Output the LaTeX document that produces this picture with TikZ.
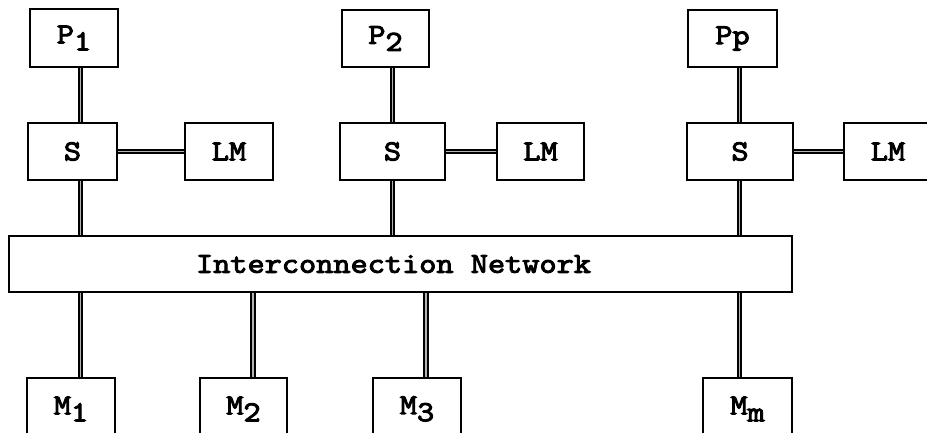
\documentclass[tikz,border=0pt]{standalone}
\usepackage{fontspec}
\newfontfamily\boxfont[FakeBold=3.5, FakeStretch=1.15]{Latin Modern Mono}
\newcommand\lowsub[1]{\raisebox{-0.24em}{#1}}
\tikzset{
  labeltext/.style={font=\boxfont\fontsize{29}{31}\selectfont},
  unit/.style={draw, line width=2.3pt, rectangle, inner sep=0pt, labeltext},
  conn/.style={line width=1.7pt, double=black!30, double distance=1.9pt},
}
\begin{document}
\begin{tikzpicture}[x=1pt,y=-1pt]
\useasboundingbox (0,0) rectangle (927,433);
\clip (0,0) rectangle (927,433);
\fill[white] (0,0) rectangle (927,433);

% bus positions of the processor and memory columns
\coordinate (c1) at (80.5,0);
\coordinate (c2) at (392.5,0);
\coordinate (c3) at (739.5,0);
\coordinate (c4) at (253,0);
\coordinate (c5) at (426,0);

% processors
\node[unit, minimum width=88pt, minimum height=58pt] (P1) at (74,38) {P\lowsub{1}};
\node[unit, minimum width=87pt, minimum height=57pt] (P2) at (385.5,38.5) {P\lowsub{2}};
\node[unit, minimum width=89pt, minimum height=57pt] (Pp) at (732.5,38.5) {Pp};

% switches
\node[unit, minimum width=89pt, minimum height=57pt] (S1) at (72.5,151.5) {S};
\node[unit, minimum width=105pt, minimum height=57pt] (S2) at (392.5,151.5) {S};
\node[unit, minimum width=106pt, minimum height=57pt] (S3) at (740,151.5) {S};

% local memories
\node[unit, minimum width=88pt, minimum height=57pt] (LM1) at (229,151.5) {LM};
\node[unit, minimum width=87pt, minimum height=57pt] (LM2) at (540.5,151.5) {LM};
\node[unit, minimum width=88pt, minimum height=57pt] (LM3) at (888,151.5) {LM};

% interconnection network
\node[unit, minimum width=783pt, minimum height=56pt] (IN) at (400.5,264) {};
\node[labeltext, inner sep=0pt] (INtext) at (393.5,264) {Interconnection Network};

% global memories
\node[unit, minimum width=88pt, minimum height=62pt] (M1) at (71,409) {M\lowsub{1}};
\node[unit, minimum width=87pt, minimum height=62pt] (M2) at (243.5,409) {M\lowsub{2}};
\node[unit, minimum width=88pt, minimum height=62pt] (M3) at (417,409) {M\lowsub{3}};
\node[unit, minimum width=89pt, minimum height=62pt] (Mm) at (747.5,409) {M\lowsub{m}};

% processor to switch
\draw[conn] (P1.south -| c1) -- (S1.north -| c1);
\draw[conn] (P2.south -| c2) -- (S2.north -| c2);
\draw[conn] (Pp.south -| c3) -- (S3.north -| c3);

% switch to local memory
\draw[conn] (S1.east) -- (S1.east -| LM1.west);
\draw[conn] (S2.east) -- (S2.east -| LM2.west);
\draw[conn] (S3.east) -- (S3.east -| LM3.west);

% switch to network
\draw[conn] (S1.south -| c1) -- (IN.north -| c1);
\draw[conn] (S2.south -| c2) -- (IN.north -| c2);
\draw[conn] (S3.south -| c3) -- (IN.north -| c3);

% network to memory modules
\draw[conn] (IN.south -| c1) -- (M1.north -| c1);
\draw[conn] (IN.south -| c4) -- (M2.north -| c4);
\draw[conn] (IN.south -| c5) -- (M3.north -| c5);
\draw[conn] (IN.south -| c3) -- (Mm.north -| c3);
\end{tikzpicture}
\end{document}
